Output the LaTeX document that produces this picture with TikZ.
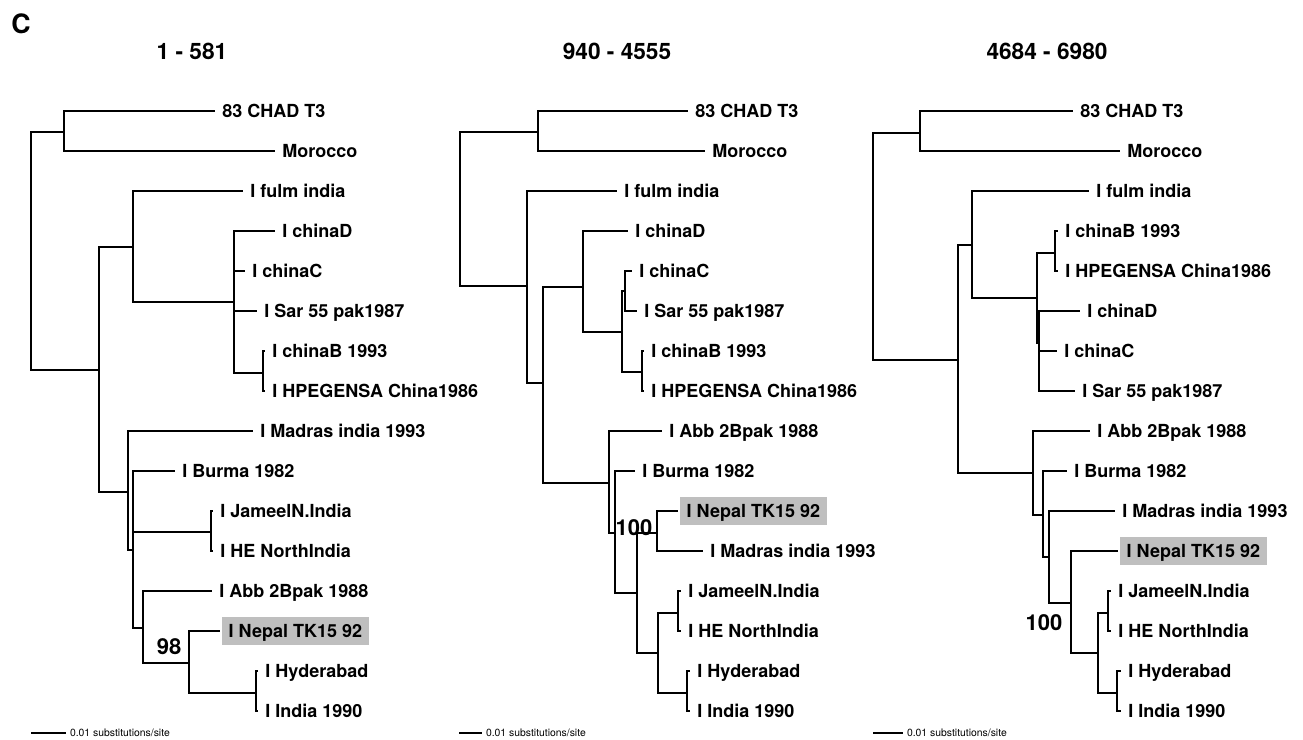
\documentclass[tikz,border=0pt]{standalone}
\usepackage{fontspec}
\setmainfont{TeX Gyre Heros}
\usepackage{tikz}

\begin{document}
\begin{tikzpicture}[x=0.75pt,y=-0.75pt,line width=1.4pt,
  every edge/.style={draw,to path={|- (\tikztotarget)}},
  leaf/.style={anchor=west,inner sep=0pt,outer xsep=5.5pt,font=\fontsize{13.5}{16}\bfseries,text height=9.7pt,text depth=0pt},
  nepal/.style={leaf,fill=black!25,inner xsep=5pt,inner ysep=6pt,outer xsep=1.5pt},
  ttl/.style={font=\fontsize{17}{20}\bfseries},
  boot/.style={font=\fontsize{16.5}{20}\bfseries},
  scl/.style={anchor=west,inner sep=0pt,outer xsep=3pt,font=\fontsize{7.8}{9}\selectfont,text height=5.6pt,text depth=0pt}]
  \useasboundingbox (0,0) rectangle (1303,739);
  \node[font=\fontsize{20}{24}\bfseries] (panel) at (21,24) {C};

  % 1 - 581
  \node[ttl] (ttl1) at (192,51) {1 - 581};
  \coordinate (r1) at (31,251);
  \coordinate (a1) at (64,132);
  \coordinate (b1) at (99,370);
  \coordinate (c1) at (133,247);
  \coordinate (d1) at (234,302);
  \coordinate (e1) at (263,373);
  \coordinate (f1) at (128,492);
  \coordinate (g1) at (133,550);
  \coordinate (h1) at (211,532);
  \coordinate (i1) at (143,628);
  \coordinate (j1) at (189,663);
  \coordinate (k1) at (256,693);
  \node[leaf] (chad1) at (215,111) {83 CHAD T3};
  \node[leaf] (moro1) at (275,151) {Morocco};
  \node[leaf] (fulm1) at (243,191) {I fulm india};
  \node[leaf] (chD1) at (275,231) {I chinaD};
  \node[leaf] (chC1) at (245,271) {I chinaC};
  \node[leaf] (sar1) at (257,311) {I Sar 55 pak1987};
  \node[leaf] (chB1) at (265,351) {I chinaB 1993};
  \node[leaf] (hpe1) at (265,391) {I HPEGENSA China1986};
  \node[leaf] (mad1) at (253,431) {I Madras india 1993};
  \node[leaf] (bur1) at (175,471) {I Burma 1982};
  \node[leaf] (jam1) at (213,511) {I JameelN.India};
  \node[leaf] (hen1) at (213,551) {I HE NorthIndia};
  \node[leaf] (abb1) at (212,591) {I Abb 2Bpak 1988};
  \node[nepal] (nep1) at (220,631) {I Nepal TK15 92};
  \node[leaf] (hyd1) at (258,671) {I Hyderabad};
  \node[leaf] (ind1) at (258,711) {I India 1990};
  \node[boot] (bs1) at (169,647) {98};
  \path (r1) edge (a1) edge (b1)
        (a1) edge (chad1) edge (moro1)
        (b1) edge (c1) edge (f1)
        (c1) edge (fulm1) edge (d1)
        (d1) edge (chD1) edge (chC1) edge (sar1) edge (e1)
        (e1) edge (chB1) edge (hpe1)
        (f1) edge (mad1) edge (g1)
        (g1) edge (bur1) edge (h1) edge (i1)
        (h1) edge (jam1) edge (hen1)
        (i1) edge (abb1) edge (j1)
        (j1) edge (nep1) edge (k1)
        (k1) edge (hyd1) edge (ind1);
  \coordinate (sb1) at (31,733);
  \node[scl] (st1) at (66,733) {0.01 substitutions/site};
  \draw (sb1) -- (st1);

  % 940 - 4555
  \node[ttl] (ttl2) at (617,51) {940 - 4555};
  \coordinate (r2) at (460,209);
  \coordinate (a2) at (538,132);
  \coordinate (b2) at (527,286);
  \coordinate (c2) at (543,383);
  \coordinate (d2) at (583,287);
  \coordinate (e2) at (622,332);
  \coordinate (f2) at (625,291);
  \coordinate (g2) at (642,372);
  \coordinate (h2) at (609,483);
  \coordinate (i2) at (615,533);
  \coordinate (j2) at (637,593);
  \coordinate (k2) at (657,533);
  \coordinate (l2) at (658,653);
  \coordinate (m2) at (678,613);
  \coordinate (n2) at (687,693);
  \node[leaf] (chad2) at (688,111) {83 CHAD T3};
  \node[leaf] (moro2) at (705,151) {Morocco};
  \node[leaf] (fulm2) at (617,191) {I fulm india};
  \node[leaf] (chD2) at (628,231) {I chinaD};
  \node[leaf] (chC2) at (632,271) {I chinaC};
  \node[leaf] (sar2) at (637,311) {I Sar 55 pak1987};
  \node[leaf] (chB2) at (644,351) {I chinaB 1993};
  \node[leaf] (hpe2) at (644,391) {I HPEGENSA China1986};
  \node[leaf] (abb2) at (662,431) {I Abb 2Bpak 1988};
  \node[leaf] (bur2) at (635,471) {I Burma 1982};
  \node[nepal] (nep2) at (678,511) {I Nepal TK15 92};
  \node[leaf] (mad2) at (703,551) {I Madras india 1993};
  \node[leaf] (jam2) at (681,591) {I JameelN.India};
  \node[leaf] (hen2) at (681,631) {I HE NorthIndia};
  \node[leaf] (hyd2) at (690,671) {I Hyderabad};
  \node[leaf] (ind2) at (690,711) {I India 1990};
  \node[boot] (bs2) at (634,528) {100};
  \path (r2) edge (a2) edge (b2)
        (a2) edge (chad2) edge (moro2)
        (b2) edge (fulm2) edge (c2)
        (c2) edge (d2) edge (h2)
        (d2) edge (chD2) edge (e2)
        (e2) edge (f2) edge (g2)
        (f2) edge (chC2) edge (sar2)
        (g2) edge (chB2) edge (hpe2)
        (h2) edge (abb2) edge (i2)
        (i2) edge (bur2) edge (j2)
        (j2) edge (k2) edge (l2)
        (k2) edge (nep2) edge (mad2)
        (l2) edge (m2) edge (n2)
        (m2) edge (jam2) edge (hen2)
        (n2) edge (hyd2) edge (ind2);
  \coordinate (sb2) at (459,733);
  \node[scl] (st2) at (482,733) {0.01 substitutions/site};
  \draw (sb2) -- (st2);

  % 4684 - 6980
  \node[ttl] (ttl3) at (1047,51) {4684 - 6980};
  \coordinate (r3) at (873,246);
  \coordinate (a3) at (920,133);
  \coordinate (b3) at (958,360);
  \coordinate (c3) at (972,245);
  \coordinate (d3) at (1037,298);
  \coordinate (e3) at (1055,253);
  \coordinate (f3) at (1039,343);
  \coordinate (g3) at (1033,473);
  \coordinate (h3) at (1043,515);
  \coordinate (i3) at (1049,557);
  \coordinate (j3) at (1071,603);
  \coordinate (k3) at (1098,653);
  \coordinate (l3) at (1108,613);
  \coordinate (m3) at (1117,693);
  \node[leaf] (chad3) at (1073,111) {83 CHAD T3};
  \node[leaf] (moro3) at (1120,151) {Morocco};
  \node[leaf] (fulm3) at (1089,191) {I fulm india};
  \node[leaf] (chB3) at (1058,231) {I chinaB 1993};
  \node[leaf] (hpe3) at (1058,271) {I HPEGENSA China1986};
  \node[leaf] (chD3) at (1080,311) {I chinaD};
  \node[leaf] (chC3) at (1057,351) {I chinaC};
  \node[leaf] (sar3) at (1075,391) {I Sar 55 pak1987};
  \node[leaf] (abb3) at (1090,431) {I Abb 2Bpak 1988};
  \node[leaf] (bur3) at (1067,471) {I Burma 1982};
  \node[leaf] (mad3) at (1115,511) {I Madras india 1993};
  \node[nepal] (nep3) at (1118,551) {I Nepal TK15 92};
  \node[leaf] (jam3) at (1111,591) {I JameelN.India};
  \node[leaf] (hen3) at (1111,631) {I HE NorthIndia};
  \node[leaf] (hyd3) at (1121,671) {I Hyderabad};
  \node[leaf] (ind3) at (1121,711) {I India 1990};
  \node[boot] (bs3) at (1044,623) {100};
  \path (r3) edge (a3) edge (b3)
        (a3) edge (chad3) edge (moro3)
        (b3) edge (c3) edge (g3)
        (c3) edge (fulm3) edge (d3)
        (d3) edge (e3) edge (f3)
        (e3) edge (chB3) edge (hpe3)
        (f3) edge (chD3) edge (chC3) edge (sar3)
        (g3) edge (abb3) edge (h3)
        (h3) edge (bur3) edge (i3)
        (i3) edge (mad3) edge (j3)
        (j3) edge (nep3) edge (k3)
        (k3) edge (l3) edge (m3)
        (l3) edge (jam3) edge (hen3)
        (m3) edge (hyd3) edge (ind3);
  \coordinate (sb3) at (873,733);
  \node[scl] (st3) at (903,733) {0.01 substitutions/site};
  \draw (sb3) -- (st3);
\end{tikzpicture}
\end{document}
